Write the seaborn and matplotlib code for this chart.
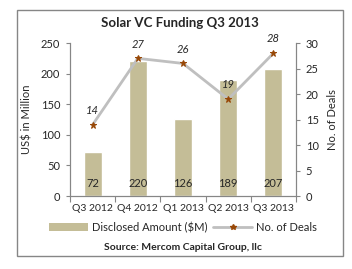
import numpy as np
import pandas as pd
import seaborn as sns
import matplotlib.pyplot as plt
from matplotlib.patches import Patch, Rectangle
from matplotlib.lines import Line2D

quarters = ["Q3 2012", "Q4 2012", "Q1 2013", "Q2 2013", "Q3 2013"]
amount = [72, 220, 126, 189, 207]
deals = [14, 27, 26, 19, 28]

bar_color = "#C4BD97"
line_color = "#BFBFBF"
marker_color = "#984807"
axis_color = "#868686"

sns.set_theme(style="white")
plt.rcParams["font.family"] = ["Lato", "DejaVu Sans"]
plt.rcParams["font.size"] = 8

df = pd.DataFrame({"quarter": quarters, "amount": amount, "deals": deals})

fig = plt.figure(figsize=(3.52, 2.69), dpi=100)
ax = fig.add_axes([0.199, 0.271, 0.642, 0.569])

sns.barplot(data=df, x="quarter", y="amount", color=bar_color, width=0.4,
            saturation=1, ax=ax)
ax.set_ylim(0, 250)
ax.set_yticks([0, 50, 100, 150, 200, 250])
ax.set_xlim(-0.5, 4.5)
ax.set_xlabel("")
ax.set_ylabel("US$ in Million", fontsize=8, labelpad=6)

# bar labels near the base
for i, v in enumerate(amount):
    ax.text(i, 20, str(v), ha="center", va="center", fontsize=8, color="#262626")

ax2 = ax.twinx()
sns.lineplot(x=np.arange(len(deals)), y=deals, ax=ax2, color=line_color, linewidth=2,
             marker="*", markersize=5, markerfacecolor=marker_color,
             markeredgecolor=marker_color)
ax2.set_ylim(0, 30)
ax2.set_yticks([0, 5, 10, 15, 20, 25, 30])
ax2.set_ylabel("No. of Deals", fontsize=8, labelpad=6)
for i, v in enumerate(deals):
    ax2.text(i, v + 2.8, str(v), ha="center", va="center", fontsize=8,
             style="italic", color="#262626")
ax2.set_xlim(-0.5, 4.5)

for a in (ax, ax2):
    for s in a.spines.values():
        s.set_color(axis_color)
        s.set_linewidth(0.8)
    a.spines["top"].set_visible(False)
    a.tick_params(colors="#262626", labelsize=8, length=3, width=0.8)
    a.tick_params(axis="both", color=axis_color)

# x ticks at category boundaries, labels centred
ax.set_xticks(np.arange(-0.5, 5, 1))
ax.set_xticklabels([])
ax.set_xticks(np.arange(5), minor=True)
ax.set_xticklabels(quarters, minor=True)
ax.tick_params(axis="x", which="major", length=4, direction="out", bottom=True)
ax.tick_params(axis="x", which="minor", length=0, labelsize=7.5, pad=6)
ax.tick_params(axis="y", left=True, direction="out", pad=4)
ax2.tick_params(axis="y", right=True, direction="out", pad=4)

fig.suptitle("Solar VC Funding Q3 2013", x=0.51, y=0.935, fontsize=9.5,
             fontweight="bold")

handles = [Patch(facecolor=bar_color, edgecolor="none"),
           Line2D([0], [0], color=line_color, linewidth=2, marker="*",
                  markersize=4, markerfacecolor=marker_color,
                  markeredgecolor=marker_color)]
fig.legend(handles, ["Disclosed Amount ($M)", "No. of Deals"], loc="center",
           bbox_to_anchor=(0.52, 0.155), ncol=2, frameon=False, fontsize=8,
           handlelength=3.5, columnspacing=0.5, handletextpad=0.4)

fig.text(0.52, 0.08, "Source: Mercom Capital Group, llc", ha="center", va="center",
         fontsize=7.5, fontweight="bold")

fig.patches.append(Rectangle((0.048, 0.048), 0.926, 0.915, transform=fig.transFigure,
                             fill=False, edgecolor="#868686", linewidth=1))

fig.savefig("out.png", dpi=100)
